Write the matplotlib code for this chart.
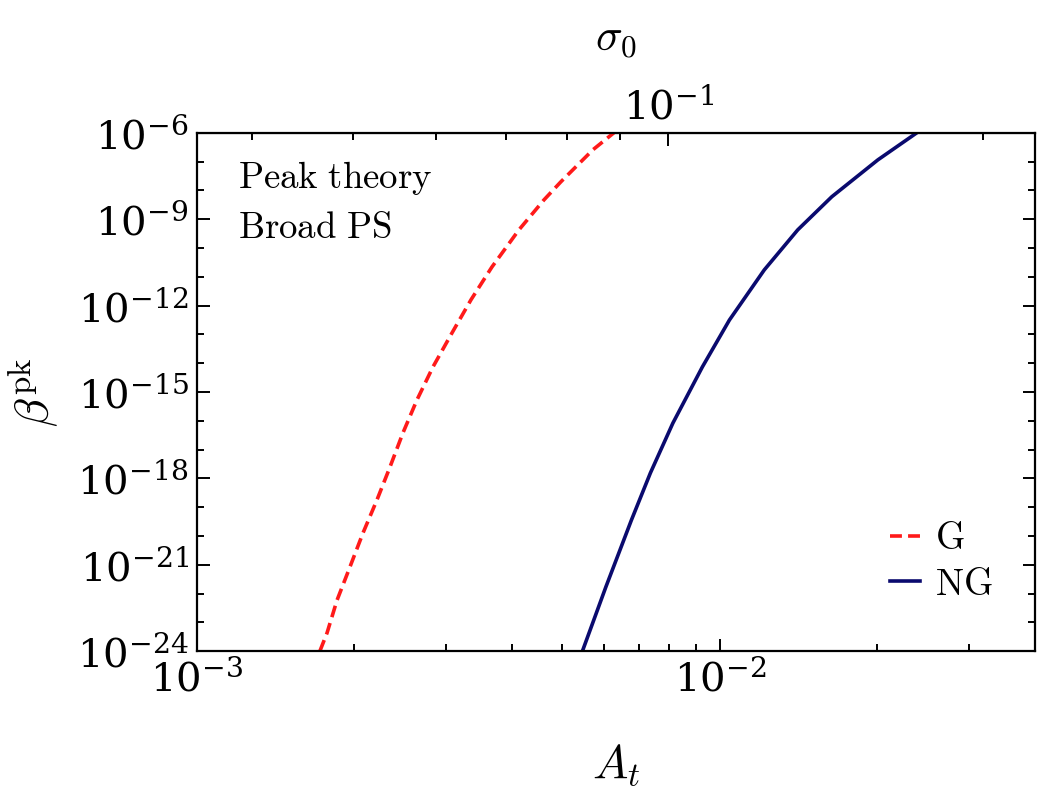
import numpy as np
import matplotlib
matplotlib.use("Agg")
import matplotlib.pyplot as plt
from matplotlib.ticker import NullFormatter

plt.rcParams["mathtext.fontset"] = "cm"
plt.rcParams["font.family"] = "serif"
plt.rcParams["font.serif"] = ["DejaVu Serif"]

# Gaussian (G) curve: A_t and log10(beta^pk)
g_at = [1.718e-3, 1.773e-3, 1.853e-3, 1.961e-3, 2.077e-3, 2.209e-3, 2.339e-3,
        2.477e-3, 2.634e-3, 2.827e-3, 3.074e-3, 3.342e-3, 3.665e-3, 4.128e-3,
        4.609e-3, 4.966e-3, 5.717e-3, 6.270e-3]
g_logbeta = [-24.0, -23.37, -22.23, -21.08, -19.90, -18.75, -17.61,
             -16.42, -15.28, -14.13, -12.95, -11.80, -10.66, -9.37,
             -8.33, -7.70, -6.59, -6.0]

# Non-Gaussian (NG) curve
ng_at = [5.459e-3, 6.053e-3, 6.773e-3, 7.365e-3, 8.131e-3, 9.258e-3,
         1.043e-2, 1.216e-2, 1.409e-2, 1.637e-2, 2.005e-2, 2.380e-2]
ng_logbeta = [-24.0, -21.77, -19.45, -17.81, -16.08, -14.13,
              -12.50, -10.76, -9.37, -8.22, -6.94, -6.0]

SIGMA_K = 1.255  # sigma_0 = sqrt(K * A_t)

fig = plt.figure(figsize=(10.42, 8.0), dpi=100)
ax = fig.add_axes([0.189, 0.186, 0.804, 0.648])

ax.plot(g_at, 10.0 ** np.array(g_logbeta), color="#ff1a1a", lw=2.6,
        ls=(0, (3.3, 1.7)), label=r"$\mathrm{G}$")
ax.plot(ng_at, 10.0 ** np.array(ng_logbeta), color="#0a0a6e", lw=2.6,
        label=r"$\mathrm{NG}$")

ax.set_xscale("log")
ax.set_yscale("log")
ax.set_xlim(1e-3, 4e-2)
ax.set_ylim(1e-24, 1e-6)

ax.set_yticks([10.0 ** k for k in range(-24, -5, 3)])
ax.set_yticks([10.0 ** k for k in range(-24, -5)], minor=True)
ax.yaxis.set_minor_formatter(NullFormatter())

ax.tick_params(which="both", direction="in", top=False, right=True, width=1.4)
ax.tick_params(which="major", length=9, labelsize=29, pad=6)
ax.tick_params(which="minor", length=5)
for s in ax.spines.values():
    s.set_linewidth(1.6)

sec = ax.secondary_xaxis("top", functions=(lambda a: np.sqrt(SIGMA_K * a),
                                           lambda s: s ** 2 / SIGMA_K))
sec.xaxis.set_minor_formatter(NullFormatter())
sec.tick_params(which="both", direction="in", width=1.4)
sec.tick_params(which="major", length=9, labelsize=29, pad=4)
sec.tick_params(which="minor", length=5)
sec.set_xlabel(r"$\sigma_0$", fontsize=32, labelpad=27)

ax.set_xlabel(r"$A_t$", fontsize=34, labelpad=32)
ax.set_ylabel(r"$\beta^{\rm pk}$", fontsize=34, labelpad=12)

ax.text(0.049, 0.95, r"$\mathrm{Peak\ theory}$", transform=ax.transAxes,
        fontsize=26.5, va="top", ha="left")
ax.text(0.049, 0.852, r"$\mathrm{Broad\ PS}$", transform=ax.transAxes,
        fontsize=26.5, va="top", ha="left")

ax.legend(loc="lower right", frameon=False, fontsize=27, handlelength=0.8,
          handletextpad=0.4, labelspacing=0.25, borderaxespad=0.0,
          bbox_to_anchor=(0.968, 0.065))

fig.savefig("out.png", dpi=100)
